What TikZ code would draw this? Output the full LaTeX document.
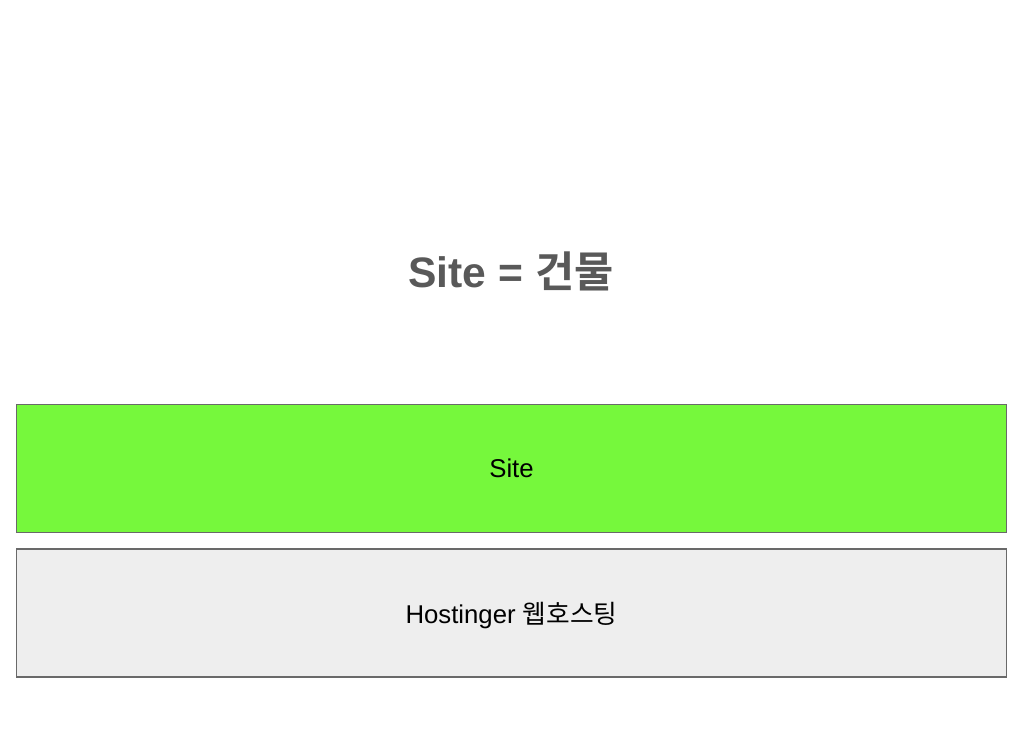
\documentclass[tikz,border=0pt]{standalone}
\usepackage{fontspec}
\setmainfont{Liberation Sans}
\newfontfamily\kr{Noto Sans CJK KR}[BoldFont={Noto Sans CJK KR Bold}]
\usetikzlibrary{positioning}
\definecolor{sitegreen}{RGB}{118,248,60}
\definecolor{hostgray}{RGB}{238,238,238}
\definecolor{boxline}{RGB}{105,105,105}
\definecolor{titlegray}{RGB}{89,89,89}

\begin{document}
\begin{tikzpicture}[x=0.025cm,y=-0.025cm,
    layer/.style={draw=boxline,line width=1.1pt,minimum width=24.75cm,minimum height=3.2cm,
                  inner sep=0pt,text depth=-0.1cm,font=\fontsize{18.3}{21}\selectfont},
    heading/.style={text=titlegray,font=\fontsize{30.3}{36}\selectfont\bfseries}]
    \useasboundingbox (0,0) rectangle (1024,732);

        \node[heading] (Title) at (511,271) {Site = {\kr 건물}};
        \node[layer,fill=sitegreen] (Site) at (511.5,468.5) {Site};
        \node[layer,fill=hostgray] (Host) [below=0.375cm of Site] {Hostinger {\kr 웹호스팅}};
\end{tikzpicture}
\end{document}
